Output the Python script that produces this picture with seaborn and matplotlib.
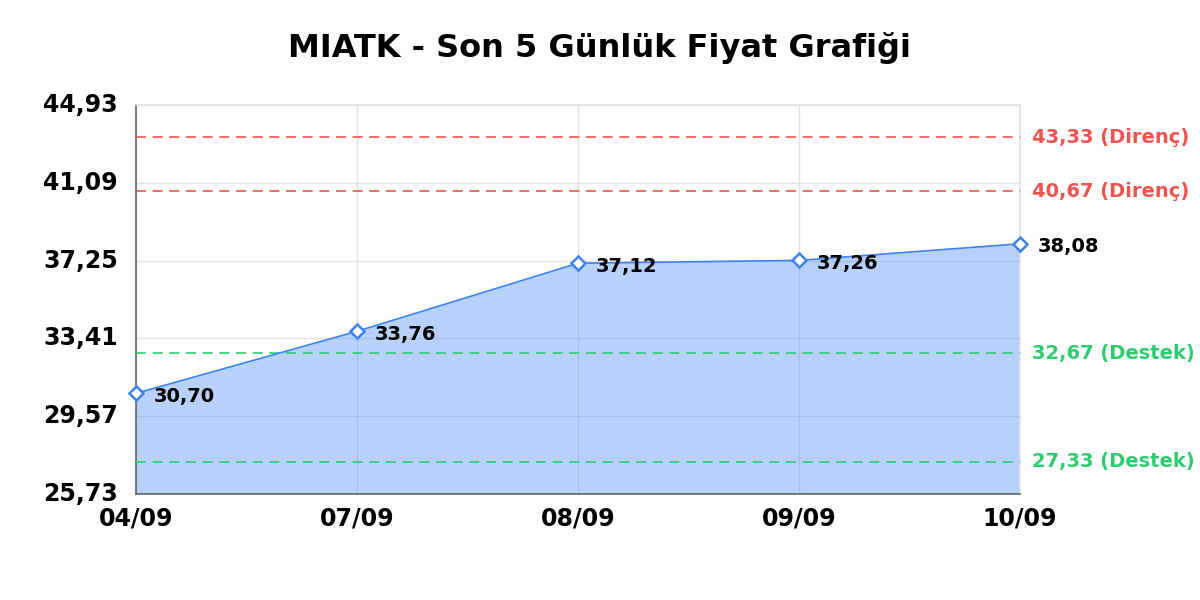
import numpy as np
import pandas as pd
import matplotlib.pyplot as plt
import seaborn as sns

# Chart data
dates = ['04/09', '07/09', '08/09', '09/09', '10/09']
prices = [30.70, 33.76, 37.12, 37.26, 38.08]
resistance = [43.33, 40.67]
support = [32.67, 27.33]
y_ticks = [25.73, 29.57, 33.41, 37.25, 41.09, 44.93]
title = 'MIATK - Son 5 Günlük Fiyat Grafiği'

def tr(v):
    return f"{v:.2f}".replace('.', ',')

df = pd.DataFrame({'x': np.arange(len(dates)), 'price': prices})

sns.set_theme(style='white')
plt.rcParams['font.family'] = ['DejaVu Sans']
plt.rcParams['text.color'] = 'black'
plt.rcParams['xtick.color'] = 'black'
plt.rcParams['ytick.color'] = 'black'

line_color = '#3b82f6'
red = '#ef5350'
green = '#2ecc71'

fig, ax = plt.subplots(figsize=(12, 6), dpi=100)
fig.subplots_adjust(left=136/1200, right=1020/1200, top=1-105/600, bottom=1-494/600)

# semi-transparent fill so the grid shows through like in the original
ax.fill_between(df['x'], df['price'], y_ticks[0], color=line_color, alpha=0.36,
                linewidth=0, zorder=2)
sns.lineplot(data=df, x='x', y='price', ax=ax, color=line_color, linewidth=1.2,
             marker='D', markersize=7, markerfacecolor='white',
             markeredgecolor=line_color, markeredgewidth=1.8, zorder=4, clip_on=False)

for lvl in resistance:
    ax.axhline(lvl, color=red, linestyle=(0, (6, 4)), linewidth=1.2, zorder=3)
    ax.annotate(f"{tr(lvl)} (Direnç)", xy=(1, lvl), xycoords=('axes fraction', 'data'),
                xytext=(9, 0), textcoords='offset points', va='center', ha='left',
                color=red, fontsize=14, fontweight='bold')
for lvl in support:
    ax.axhline(lvl, color=green, linestyle=(0, (6, 4)), linewidth=1.2, zorder=3)
    ax.annotate(f"{tr(lvl)} (Destek)", xy=(1, lvl), xycoords=('axes fraction', 'data'),
                xytext=(9, 0), textcoords='offset points', va='center', ha='left',
                color=green, fontsize=14, fontweight='bold')

for i, p in enumerate(prices):
    ax.annotate(tr(p), xy=(i, p), xytext=(12.5, -2), textcoords='offset points',
                va='center', ha='left', fontsize=14, fontweight='bold', color='black',
                zorder=5)

ax.set_xlim(0, len(dates) - 1)
ax.set_ylim(y_ticks[0], y_ticks[-1])
ax.set_xticks(df['x'])
ax.set_xticklabels(dates, fontsize=17, fontweight='bold')
ax.set_yticks(y_ticks)
ax.set_yticklabels([tr(v) for v in y_ticks], fontsize=17, fontweight='bold')
ax.tick_params(axis='both', length=0)
ax.tick_params(axis='x', pad=9)
ax.tick_params(axis='y', pad=13)
for lab in ax.get_yticklabels():
    lab.set_verticalalignment('center')

ax.grid(True, color='#e3e3e3', linewidth=1, zorder=0)
ax.set_axisbelow(True)
ax.set_xlabel('')
ax.set_ylabel('')

for side in ['top', 'right']:
    ax.spines[side].set_color('#e3e3e3')
for side in ['left', 'bottom']:
    ax.spines[side].set_color('#666666')
    ax.spines[side].set_linewidth(1.2)

fig.suptitle(title, fontsize=23, fontweight='bold', y=1-48/600, va='center')

fig.savefig('out.png', dpi=100)
